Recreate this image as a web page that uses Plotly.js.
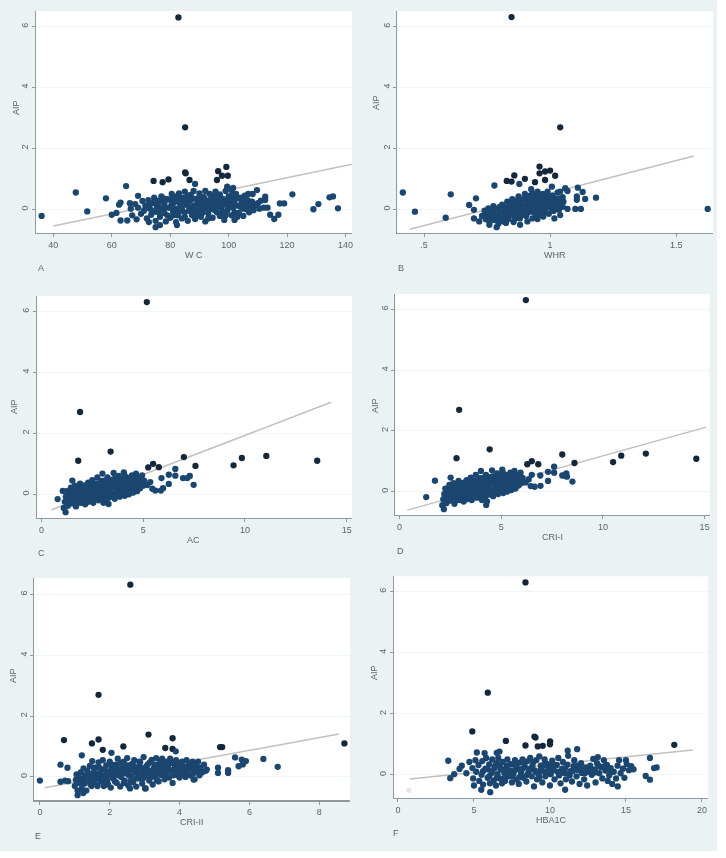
<!DOCTYPE html>
<html><head><meta charset="utf-8">
<script src="https://cdn.plot.ly/plotly-3.0.1.min.js"></script>
<style>html,body{margin:0;padding:0;background:#fff}#c{width:726px;height:858px;filter:blur(0.65px)}</style>
</head><body><div id="c"></div>
<script>
const yAxisTitle = "AIP";
const xTitles = ["W C","WHR","AC","CRI-I","CRI-II","HBA1C"];
const panelLetters = ["A","B","C","D","E","F"];
const yTicks = [0,2,4,6];
const wcTicks = [40,60,80,100,120,140];
const whrTicks = [0.5,1,1.5];
const whrTickText = [".5","1","1.5"];
const acTicks = [0,5,10,15];
const cri1Ticks = [0,5,10,15];
const cri2Ticks = [0,2,4,6,8];
const hbaTicks = [0,5,10,15,20];

const wcFit = [[40,-.55],[143.9,1.51]];
const whrFit = [[.443,-.66],[1.57,1.75]];
const acFit = [[.5,-.51],[14.23,3.02]];
const cri1Fit = [[.38,-.61],[15.08,2.12]];
const cri2Fit = [[.14,-.36],[8.56,1.41]];
const hbaFit = [[.77,-.14],[19.4,.81]];

const wcPoints = [[82.8,6.3],[85.1,2.69],[36,-.22],[47.7,.55],[51.6,-.07],[58,.36],[64.9,.76],[69,.44],[74.3,.93],[77.4,.89],[79.4,.98],[85.1,1.21],[85.3,1.18],[86.6,.96],[88.5,.83],[96,.96],[96.4,1.25],[97.7,1.1],[99.2,1.39],[99.7,1.1],[99.5,.74],[101.5,.7],[106.7,.5],[108.2,.5],[109.7,.63],[112.5,.41],[112.5,.3],[113.3,.05],[112,.05],[114.2,-.18],[115.6,-.32],[117,-.18],[117.5,.19],[119,.19],[121.8,.49],[129,0],[130.7,.17],[134.5,.39],[135.7,.42],[137.4,.03],[60,-.18],[61.6,-.12],[62.5,.15],[63,.22],[63,-.37],[65.3,-.37],[66.2,.2],[75,-.59],[76.5,-.52],[82.3,-.52],[72.7,-.42],
[67,-.2],[66.5,.02],[68,.17],[68.5,-.33],[69,.05],[70,-.15],[70.5,.27],[71,-.05],[71.5,.12],[72,-.3],[72.5,.3],[73,.02],[73.5,-.18],[74,.2],[74.5,.38],[75,-.38],[75,-.08],[75.5,.1],[76,.28],[76.5,-.25],[77,.42],[77,.03],[78,-.12],[78,.2],[78.5,-.4],[79,.33],[79.5,.05],[80,-.28],[80.5,.5],[80.5,.17],[81,-.08],[81.5,.36],[82,.02],[82,-.42],[82.5,-.2],[83,.52],[83,.22],[83.5,.08],[84,-.3],[84.5,.38],[85,-.1],[85,.58],[85.5,.15],[86,-.38],[86.5,.28],[86.5,.02],[87,.47],[87.5,-.2],[88,.12],[88,.6],[88.5,-.32],[89,.34],[89.5,-.05],[90,.52],[90,.2],[90.5,-.25],[91,.05],[91.5,.4],[92,-.4],[92,.6],[92.5,.18],[93,-.13],[93.5,.5],[93.5,.3],[94,.02],[94.5,-.28],[95,.42],[95,.15],[95.5,.58],[96,-.1],[96.5,.25],[97,-.22],[97,.48],[97.5,.05],[98,.34],[98.5,-.35],[99,.15],[99,.6],[99.5,-.05],[100,.42],[100.5,.25],[101,-.2],[101,.62],[101.5,.05],[102,-.35],[102,.32],[102.5,.5],[103,.12],[103.5,-.12],[104,.38],[104.5,.22],[105,-.22],[105,.02],[105.5,.45],[106,.15],[106.5,.3],[107,-.1],[107.5,.08],[108,.25],[108.5,-.03],[109,.12],[110,.2],[110.5,.02],[111,.28]];
const wcCore = [[72,.1],[73,.2],[74,-.05],[75,.25],[76,.1],[76,-.1],[77,.28],[78,.05],[78,.35],[79,-.2],[80,.05],[80,.32],[81,.2],[81,-.2],[82,.42],[83,-.1],[83,.38],[84,.02],[84,.22],[85,.32],[85,-.25],[86,.15],[86,.45],[87,-.08],[87,.3],[88,-.05],[88,.35],[89,.15],[89,-.2],[90,.05],[90,.38],[91,.22],[91,-.12],[92,.3],[92,.02],[93,.12],[93,-.3],[94,.2],[94,.45],[95,-.02],[95,.28],[96,.38],[96,.08],[97,.15],[97,.32],[98,-.08],[98,.2],[99,.3],[99,-.2],[100,.05],[100,.12],[101,.3],[101,.45],[102,.15],[102,-.1],[103,.35],[103,-.25],[104,.08],[105,.28],[106,0],[107,.2]];

const whrPoints = [[.847,6.31],[1.04,2.69],[.416,.55],[.464,-.08],[.606,.49],[.586,-.28],[1.625,.01],[.779,.78],[.828,.93],[.858,1.11],[.847,.91],[.878,.83],[.9,1],[.94,.89],[.958,1.4],[.958,1.18],[.98,1.24],[1,1.27],[1.02,1.1],[.98,.96],[1.007,.74],[1.04,.58],[1.06,.69],[1.069,.6],[1.11,.71],[1.129,.57],[1.106,.42],[1.106,.31],[1.139,.34],[1.182,.38],[1.1,.01],[1.122,.01],[1.069,.01],[1.053,.25],[1.04,.36],[.679,.14],[.706,.36],[.698,-.02],[.698,-.3],[.719,-.4],[.759,-.51],[.788,-.59],[.881,-.51],[.973,-.24],[1.017,-.3],[1.04,-.19],
[.73,-.22],[.74,-.05],[.745,-.33],[.75,-.15],[.755,.03],[.76,-.42],[.765,-.25],[.77,-.08],[.775,.1],[.78,-.35],[.785,-.18],[.79,.02],[.795,-.48],[.8,-.28],[.805,-.1],[.81,.15],[.815,-.4],[.82,.04],[.825,-.2],[.83,.25],[.835,-.32],[.84,-.06],[.845,.12],[.85,.33],[.855,-.42],[.86,-.2],[.865,.03],[.87,.22],[.875,.42],[.88,-.3],[.885,-.08],[.89,.13],[.895,.33],[.9,.5],[.905,-.22],[.91,.02],[.915,.22],[.92,.45],[.925,.66],[.93,-.3],[.935,-.1],[.94,.12],[.945,.34],[.95,.58],[.955,-.2],[.96,.03],[.965,.25],[.97,.5],[.975,-.08],[.98,.14],[.985,.36],[.99,.58],[.995,-.15],[1,.05],[1.005,.25],[1.01,.45],[1.015,-.05],[1.02,.15],[1.025,.35],[1.03,.55],[1.035,-.02],[1.04,.2],[1.05,.08],[1.05,.4],[.87,-.05],[.9,.1],[.92,-.05],[.93,.3],[.96,.4],[.98,0],[.905,.38],[.94,.5],[.91,-.4],[.86,.17],[.83,.05],[.8,.08],[.95,-.32],[.85,-.1],[.825,-.45]];
const whrCore = [[.78,-.05],[.79,-.22],[.81,-.3],[.82,-.12],[.83,-.25],[.84,.2],[.85,0],[.86,-.32],[.87,.1],[.875,-.22],[.88,.3],[.89,-.18],[.89,.02],[.9,-.1],[.91,.3],[.915,-.1],[.92,.12],[.93,.02],[.93,.5],[.94,.25],[.945,-.2],[.95,.1],[.955,.45],[.96,-.08],[.97,.12],[.97,.32],[.98,.25],[.99,.1],[.99,.42],[1,.15],[1,.35],[1.01,-.05],[1.01,.1],[1.02,.28],[1.03,.05],[.97,-.2],[.905,.15],[.88,.18],[.86,.28],[.84,-.2],[.82,-.32],[.8,-.15],[.77,-.2],[.79,-.35],[.75,-.28],[.85,.2],[.9,.33],[.92,.3],[.94,0],[.96,.15],[.98,.48]];

const acPoints = [[5.18,6.31],[1.9,2.7],[1.81,1.1],[3.4,1.4],[7,1.22],[7.57,.93],[9.44,.95],[9.85,1.19],[11.05,1.26],[13.55,1.1],[5.49,1],[5.25,.88],[5.77,.89],[6.58,.83],[6.26,.64],[6.58,.61],[5.9,.53],[6.96,.53],[7.16,.53],[7.29,.6],[7.48,.31],[6.26,.34],[5.98,.2],[5.87,.12],[5.6,.12],[1.52,.45],[.8,-.16],[1.19,-.59],[1.05,.11],
[1.1,-.45],[1.15,-.25],[1.2,-.08],[1.25,.1],[1.3,-.38],[1.35,-.15],[1.4,.02],[1.45,.22],[1.5,-.3],[1.55,-.08],[1.6,.12],[1.65,.28],[1.7,-.4],[1.75,-.18],[1.8,0],[1.85,.2],[1.9,.35],[1.95,-.28],[2,-.1],[2.05,.08],[2.1,.28],[2.15,-.33],[2.2,0],[2.25,.18],[2.3,.38],[2.35,-.18],[2.4,.05],[2.45,.25],[2.5,.46],[2.55,-.28],[2.6,-.05],[2.65,.14],[2.7,.35],[2.75,.55],[2.8,-.2],[2.85,.02],[2.9,.22],[2.95,.44],[3,.68],[3.05,-.28],[3.1,-.05],[3.15,.14],[3.2,.34],[3.25,.55],[3.3,-.32],[3.35,-.1],[3.4,.08],[3.45,.26],[3.5,.48],[3.55,.7],[3.6,-.15],[3.65,.02],[3.7,.2],[3.75,.4],[3.8,.6],[3.85,-.08],[3.9,.1],[3.95,.3],[4,.5],[4.05,.72],[4.1,-.05],[4.15,.14],[4.2,.34],[4.25,.54],[4.3,0],[4.35,.2],[4.4,.42],[4.45,.62],[4.5,.05],[4.55,.26],[4.6,.46],[4.65,.68],[4.7,.1],[4.75,.3],[4.8,.5],[4.85,.2],[4.9,.38],[4.95,.62],[5,.28],[5.05,.45],[5.2,.3],[5.35,.4],[5.45,.18]];
const acCore = [[1.3,-.2],[1.4,-.28],[1.4,-.1],[1.5,.08],[1.55,-.2],[1.6,0],[1.7,-.1],[1.7,.2],[1.8,-.28],[1.85,.08],[1.9,-.15],[2,0],[2,.2],[2.1,-.22],[2.1,.1],[2.2,-.15],[2.2,.3],[2.3,.05],[2.3,-.25],[2.4,.15],[2.4,-.08],[2.5,-.15],[2.5,.32],[2.6,.05],[2.6,.22],[2.7,-.12],[2.7,.05],[2.8,.3],[2.8,-.08],[2.9,.12],[2.9,.35],[3,-.15],[3,.02],[3,.3],[3.1,.2],[3.1,.45],[3.2,.05],[3.2,-.18],[3.3,.25],[3.3,.45],[3.4,-.05],[3.4,.18],[3.5,.35],[3.5,.02],[3.6,.25],[3.6,.5],[3.7,.08],[3.7,-.05],[3.8,.3],[3.8,.48],[3.9,0],[3.9,.2],[4,.1],[4,.35],[4.1,.25],[4.1,.6],[4.2,.05],[4.2,.45],[4.3,.3],[4.3,.12],[4.4,.5],[4.4,.3],[4.5,.15],[4.5,.4],[4.6,.2],[4.6,.35],[4.7,.55],[4.8,.25],[4.8,.4]];

const cri1Points = [[6.21,6.3],[2.93,2.69],[2.8,1.1],[4.43,1.39],[8,1.22],[8.6,.94],[10.5,.97],[10.9,1.18],[12.11,1.25],[14.59,1.08],[6.5,1],[6.28,.9],[6.82,.9],[7.6,.82],[7.6,.62],[7.3,.65],[6.92,.53],[6.5,.55],[8,.53],[8.2,.6],[8.1,.53],[8.23,.49],[8.5,.33],[7.3,.35],[6.93,.19],[6.64,.16],[1.31,-.18],[1.74,.36],[2.51,.46],[2.18,-.58],[4.26,-.44],
[2.1,-.45],[2.15,-.25],[2.2,-.08],[2.25,.1],[2.3,-.38],[2.35,-.15],[2.4,.02],[2.45,.22],[2.5,-.3],[2.55,-.08],[2.6,.12],[2.65,.28],[2.7,-.4],[2.75,-.18],[2.8,0],[2.85,.2],[2.9,.35],[2.95,-.28],[3,-.1],[3.05,.08],[3.1,.28],[3.15,-.33],[3.2,0],[3.25,.18],[3.3,.38],[3.35,-.18],[3.4,.05],[3.45,.25],[3.5,.46],[3.55,-.28],[3.6,-.05],[3.65,.14],[3.7,.35],[3.75,.55],[3.8,-.2],[3.85,.02],[3.9,.22],[3.95,.44],[4,.68],[4.05,-.28],[4.1,-.05],[4.15,.14],[4.2,.34],[4.25,.55],[4.3,-.32],[4.35,-.1],[4.4,.08],[4.45,.26],[4.5,.48],[4.55,.7],[4.6,-.15],[4.65,.02],[4.7,.2],[4.75,.4],[4.8,.6],[4.85,-.08],[4.9,.1],[4.95,.3],[5,.5],[5.05,.72],[5.1,-.05],[5.15,.14],[5.2,.34],[5.25,.54],[5.3,0],[5.35,.2],[5.4,.42],[5.45,.62],[5.5,.05],[5.55,.26],[5.6,.46],[5.65,.68],[5.7,.1],[5.75,.3],[5.8,.5],[5.85,.2],[5.9,.38],[5.95,.62],[6,.28],[6.05,.45],[6.2,.3],[6.35,.4],[6.45,.18]];
const cri1Core = [[2.3,-.2],[2.4,-.28],[2.4,-.1],[2.5,.08],[2.55,-.2],[2.6,0],[2.7,-.1],[2.7,.2],[2.8,-.28],[2.85,.08],[2.9,-.15],[3,0],[3,.2],[3.1,-.22],[3.1,.1],[3.2,-.15],[3.2,.3],[3.3,.05],[3.3,-.25],[3.4,.15],[3.4,-.08],[3.5,-.15],[3.5,.32],[3.6,.05],[3.6,.22],[3.7,-.12],[3.7,.05],[3.8,.3],[3.8,-.08],[3.9,.12],[3.9,.35],[4,-.15],[4,.02],[4,.3],[4.1,.2],[4.1,.45],[4.2,.05],[4.2,-.18],[4.3,.25],[4.3,.45],[4.4,-.05],[4.4,.18],[4.5,.35],[4.5,.02],[4.6,.25],[4.6,.5],[4.7,.08],[4.7,-.05],[4.8,.3],[4.8,.48],[4.9,0],[4.9,.2],[5,.1],[5,.35],[5.1,.25],[5.1,.6],[5.2,.05],[5.2,.45],[5.3,.3],[5.3,.12],[5.4,.5],[5.4,.3],[5.5,.15],[5.5,.4],[5.6,.2],[5.6,.35],[5.7,.55],[5.8,.25],[5.8,.4]];

const cri2Points = [[2.59,6.32],[1.68,2.7],[3.11,1.39],[3.8,1.27],[1.68,1.23],[.69,1.21],[1.49,1.1],[0,-.12],[8.72,1.1],[5.16,.98],[5.22,.98],[5.59,.64],[6.4,.59],[6.81,.33],[5.78,.57],[5.9,.52],[5.81,.41],[5.69,.35],[5.39,.22],[5.39,.13],[5.1,.3],[5.1,.13],[4.78,.24],[3.59,.95],[3.8,.92],[3.89,.84],[2.39,1],[1.8,.89],[1.2,.71],[2.05,.79],[.59,.4],[.79,.3],[.59,-.16],[.72,-.12],[.81,-.14],[1.08,-.6],[1.24,-.53],[2.58,-.38],[3.01,-.38],[3.8,-.2],[4.4,-.09],
[1,-.3],[1.03,-.1],[1.05,.08],[1.08,-.45],[1.1,0],[1.13,-.2],[1.17,.15],[1.2,-.38],[1.22,-.05],[1.25,.28],[1.28,-.22],[1.3,.05],[1.33,-.45],[1.36,.2],[1.4,-.12],[1.43,.36],[1.45,.02],[1.48,-.3],[1.5,.52],[1.53,.14],[1.56,-.18],[1.6,.3],[1.62,-.05],[1.65,-.3],[1.68,.48],[1.7,.1],[1.74,-.15],[1.78,.25],[1.8,.55],[1.83,-.3],[1.86,.02],[1.9,.38],[1.93,-.12],[1.97,.15],[2,.5],[2.03,-.35],[2.06,.28],[2.1,-.05],[2.13,.08],[2.17,.4],[2.2,-.2],[2.23,.6],[2.26,.18],[2.3,-.32],[2.33,0],[2.36,.32],[2.4,.5],[2.43,-.12],[2.46,.12],[2.5,.62],[2.53,-.28],[2.56,.24],[2.6,.02],[2.63,.42],[2.67,-.18],[2.7,.55],[2.73,.14],[2.76,-.32],[2.8,.3],[2.83,-.05],[2.87,.48],[2.9,.1],[2.93,-.22],[2.97,.65],[3,.24],[3.03,-.38],[3.06,.03],[3.1,.42],[3.13,-.12],[3.17,.17],[3.2,.56],[3.23,-.25],[3.27,.3],[3.3,.02],[3.33,.62],[3.37,.16],[3.4,-.15],[3.43,.42],[3.47,.06],[3.5,.6],[3.53,.26],[3.57,-.08],[3.6,.5],[3.63,.12],[3.67,.36],[3.7,-.02],[3.73,.6],[3.77,.22],[3.8,.46],[3.83,.05],[3.87,.32],[3.9,.55],[3.93,.14],[3.97,.4],[4,-.02],[4.03,.24],[4.07,.5],[4.1,.08],[4.13,.34],[4.17,0],[4.2,.55],[4.23,.2],[4.27,.42],[4.3,.05],[4.33,.28],[4.37,.5],[4.4,.12],[4.43,-.08],[4.47,.36],[4.5,.18],[4.53,.5],[4.57,.05],[4.6,.3],[4.65,.15],[4.7,.4],[4.75,.2]];
const cri2Core = [[1.2,-.2],[1.3,-.12],[1.4,.08],[1.45,-.25],[1.5,-.05],[1.55,.3],[1.6,.1],[1.7,-.05],[1.7,.3],[1.8,.05],[1.8,-.15],[1.9,.2],[1.95,-.25],[2,.05],[2.05,.4],[2.1,.2],[2.15,-.15],[2.2,.28],[2.25,.05],[2.3,.45],[2.35,.15],[2.4,-.2],[2.45,.25],[2.5,.38],[2.55,.05],[2.6,-.15],[2.65,.22],[2.7,.35],[2.75,-.05],[2.8,.12],[2.85,.5],[2.9,.3],[2.95,-.05],[3,.1],[3.05,.35],[3.1,.22],[3.15,.48],[3.2,0],[3.25,.12],[3.3,.4],[3.35,-.1],[3.4,.28],[3.45,.5],[3.5,.15],[3.55,.38],[3.6,.03],[3.65,.25],[3.7,.45],[3.8,.15],[3.85,.42],[3.9,.28],[3.95,.05],[4,.15],[4.05,.38],[4.15,.25],[4.2,.1],[4.3,.35],[4.4,.25]];

const hbaPoints = [[8.39,6.3],[5.91,2.69],[4.89,1.42],[7.1,1.11],[8.98,1.25],[9.05,1.22],[8.39,.96],[10.01,1.09],[10,1],[9.53,.95],[9.2,.93],[11.17,.79],[11.79,.84],[18.18,.98],[16.58,.55],[17.02,.24],[16.85,.22],[16.3,-.04],[16.58,-.16],[14.46,-.38],[11,-.49],[6.07,-.57],[5.48,-.49],[3.31,.46],[3.44,-.11],[3.7,.02],[4.05,.19],[5.19,.73],[5.7,.71],[6.68,.76],[6.5,.72],
[4.2,.3],[4.5,.05],[4.7,.42],[4.9,.22],[4.95,-.12],[5,-.35],[5.1,.48],[5.15,.1],[5.3,.32],[5.35,-.2],[5.5,0],[5.55,.45],[5.6,-.32],[5.75,.2],[5.8,.55],[5.9,-.1],[6,.34],[6.05,-.28],[6.15,.05],[6.2,.5],[6.3,-.18],[6.35,.22],[6.45,-.35],[6.5,.38],[6.55,.02],[6.6,.55],[6.7,-.12],[6.75,.18],[6.85,-.28],[6.9,.42],[7,.06],[7.05,-.2],[7.15,.28],[7.2,.5],[7.3,-.05],[7.35,.14],[7.5,-.25],[7.55,.34],[7.6,.03],[7.7,.48],[7.8,-.15],[7.85,.2],[7.95,-.3],[8,.4],[8.1,.07],[8.2,.5],[8.25,-.1],[8.35,.26],[8.45,-.22],[8.5,.44],[8.6,.1],[8.7,.55],[8.8,-.05],[8.85,.3],[8.95,-.38],[9,.14],[9.1,.48],[9.15,-.15],[9.25,.02],[9.3,.6],[9.4,.3],[9.5,-.25],[9.55,.12],[9.65,.5],[9.7,-.05],[9.8,.36],[9.9,.2],[10,-.35],[10.05,.02],[10.15,.46],[10.25,.15],[10.3,-.15],[10.45,.32],[10.55,.55],[10.6,-.02],[10.7,-.28],[10.8,.2],[10.85,.42],[11,.05],[11.05,-.15],[11.15,.33],[11.2,.62],[11.35,.12],[11.45,-.22],[11.55,.28],[11.6,.48],[11.75,-.05],[11.85,.16],[11.95,-.3],[12.05,.38],[12.1,.06],[12.25,-.15],[12.35,.24],[12.45,-.35],[12.5,.1],[12.65,.3],[12.75,0],[12.85,.52],[12.95,.18],[13,-.25],[13.1,.38],[13.15,.58],[13.25,.05],[13.35,.25],[13.45,-.12],[13.55,.48],[13.65,.14],[13.75,.32],[13.8,-.2],[13.9,-.02],[14,.22],[14.1,-.3],[14.2,.1],[14.35,-.12],[14.45,.3],[14.55,.48],[14.65,.05],[14.8,.2],[14.9,-.1],[15,.48],[15.05,.35],[15.2,.15],[15.35,.28],[15.5,.18]];
const hbaCore = [[5.6,.12],[5.9,.18],[6,-.05],[6.2,.12],[6.4,.3],[6.5,-.1],[6.7,.32],[6.9,.18],[7,-.12],[7.2,.08],[7.4,.35],[7.5,-.05],[7.7,.15],[7.8,.32],[8,-.08],[8.2,.2],[8.3,.38],[8.5,0],[8.7,.2],[8.9,.42],[9.1,.08],[9.3,-.08],[9.4,.18],[9.6,.32],[9.8,.06],[10,.22],[10.2,.35],[10.5,.1],[10.7,.05],[11,.22],[11.3,-.02],[11.5,.12],[11.8,.3],[12,.2],[12.3,.05],[12.7,.16],[13,.08],[13.2,.3],[13.6,.28],[14,.08]];
const hbaFaint = [[.72,-.51]];

const W = 726, H = 858;
const panels = [
 {pts:wcPoints.concat(wcCore), fit:wcFit, ticks:wcTicks, box:[36,352,11,233], xr:[34.07,142.2], yr:[-.78,6.51], xt:[194,255], yt:[16,108], lt:[41,268]},
 {pts:whrPoints.concat(whrCore), fit:whrFit, ticks:whrTicks, text:whrTickText, box:[397.3,713,11,233], xr:[.394,1.646], yr:[-.78,6.51], xt:[555,255], yt:[376,103], lt:[401,268]},
 {pts:acPoints.concat(acCore), fit:acFit, ticks:acTicks, box:[36.7,352,296,518], xr:[-.23,15.26], yr:[-.78,6.51], xt:[194,540], yt:[14,407], lt:[41,553]},
 {pts:cri1Points.concat(cri1Core), fit:cri1Fit, ticks:cri1Ticks, box:[395.3,709.7,294,515], xr:[-.21,15.25], yr:[-.77,6.5], xt:[552,537], yt:[375,405], lt:[400,551]},
 {pts:cri2Points.concat(cri2Core), fit:cri2Fit, ticks:cri2Ticks, box:[34.3,350,578,800.3], xr:[-.16,8.88], yr:[-.77,6.54], xt:[192,822], yt:[13,676], lt:[38,836]},
 {pts:hbaPoints.concat(hbaCore), fit:hbaFit, ticks:hbaTicks, box:[393.7,708,576.3,798], xr:[-.28,20.4], yr:[-.76,6.5], xt:[551,820], yt:[374,673], lt:[396,833]}
];
const bg = '#eaf2f3', txt = '#5a6468', axc = '#8f9a9e', navy = '#1a4670', ink = '#14283c';
const px = v => v / W, py = v => 1 - v / H;
const data = [], annotations = [];
const shapes = [{type:'rect',xref:'paper',yref:'paper',x0:0,x1:px(717),y0:py(0),y1:py(851),fillcolor:bg,line:{width:0},layer:'below'}];
const layout = {
  width:W, height:H, margin:{l:0,r:0,t:0,b:0}, paper_bgcolor:'#fff', plot_bgcolor:'rgba(0,0,0,0)', showlegend:false,
  font:{family:'Liberation Sans, Arial, sans-serif', size:9, color:txt}, shapes
};
panels.forEach((p,i) => {
  const s = i ? String(i+1) : '';
  shapes.push({type:'rect',xref:'paper',yref:'paper',x0:px(p.box[0]),x1:px(p.box[1]),y0:py(p.box[3]),y1:py(p.box[2]),fillcolor:'#fff',line:{width:0},layer:'below'});
  data.push({type:'scatter',mode:'lines',xaxis:'x'+s,yaxis:'y'+s,x:p.fit.map(d=>d[0]),y:p.fit.map(d=>d[1]),cliponaxis:false,line:{color:'#c4bfbb',width:1.5},hoverinfo:'skip'});
  data.push({type:'scatter',mode:'markers',xaxis:'x'+s,yaxis:'y'+s,x:p.pts.map(d=>d[0]),y:p.pts.map(d=>d[1]),cliponaxis:false,marker:{color:p.pts.map(d=>d[1]>.85?ink:navy),size:6.3,line:{width:0}},hoverinfo:'skip'});
  const ax = {showline:true,linecolor:axc,linewidth:1.2,ticks:'outside',ticklen:3,tickcolor:axc,tickwidth:1,zeroline:false,showgrid:false,fixedrange:true,tickfont:{size:9,color:txt}};
  layout['xaxis'+s] = Object.assign({},ax,{domain:[px(p.box[0]),px(p.box[1])],range:p.xr,anchor:'y'+s,tickvals:p.ticks,ticktext:p.text||p.ticks.map(String)});
  layout['yaxis'+s] = Object.assign({},ax,{domain:[py(p.box[3]),py(p.box[2])],range:p.yr,anchor:'x'+s,tickvals:yTicks,ticktext:yTicks.map(String),tickangle:-90,showgrid:true,gridcolor:'#f0f5f6',gridwidth:1});
  const note = (pos,text,extra) => annotations.push(Object.assign({xref:'paper',yref:'paper',x:px(pos[0]),y:py(pos[1]),text,showarrow:false,xanchor:'center',yanchor:'middle',font:{size:9,color:txt}},extra||{}));
  note(p.xt,xTitles[i]);
  note(p.yt,yAxisTitle,{textangle:-90});
  note(p.lt,panelLetters[i]);
});
data.push({type:'scatter',mode:'markers',xaxis:'x6',yaxis:'y6',x:hbaFaint.map(d=>d[0]),y:hbaFaint.map(d=>d[1]),marker:{color:'#e2e6e6',size:5},hoverinfo:'skip'});
layout.annotations = annotations;
Plotly.newPlot('c',data,layout,{displayModeBar:false,staticPlot:true});
</script></body></html>
